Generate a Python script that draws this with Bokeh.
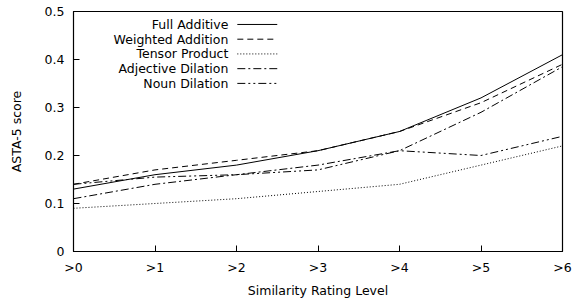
from bokeh.plotting import figure
from bokeh.models import FixedTicker, Range1d
from bokeh.core.properties import value
from bokeh.embed import file_html
from bokeh.resources import INLINE

categories = [">0", ">1", ">2", ">3", ">4", ">5", ">6"]
full_additive = [0.13, 0.16, 0.18, 0.21, 0.25, 0.32, 0.41]
weighted_addition = [0.14, 0.17, 0.19, 0.21, 0.25, 0.31, 0.39]
tensor_product = [0.09, 0.10, 0.11, 0.125, 0.14, 0.18, 0.22]
adjective_dilation = [0.11, 0.14, 0.16, 0.18, 0.21, 0.29, 0.385]
noun_dilation = [0.14, 0.155, 0.16, 0.17, 0.21, 0.20, 0.24]
y_ticks = [0, 0.1, 0.2, 0.3, 0.4, 0.5]

series = [
    ("Full Additive", full_additive, "solid"),
    ("Weighted Addition", weighted_addition, "6 4"),
    ("Tensor Product", tensor_product, "1 2"),
    ("Adjective Dilation", adjective_dilation, "8 3 2 3"),
    ("Noun Dilation", noun_dilation, "8 3 2 3 2 3"),
]

FONT = "DejaVu Sans"
FS = "12.5px"
xs = list(range(len(categories)))

p = figure(width=578, height=300, output_backend="svg", toolbar_location=None,
           x_range=Range1d(0, len(categories) - 1), y_range=Range1d(0, 0.5),
           min_border_left=73, min_border_right=16, min_border_top=11, min_border_bottom=45)
p.grid.visible = False
p.outline_line_color = "black"
p.outline_line_width = 1.2
p.background_fill_color = "white"
p.border_fill_color = "white"

for name, vals, dash in series:
    p.line(xs, vals, line_color="black", line_width=1, line_dash=dash)

# legend (gnuplot style: right-aligned text, sample to the right)
leg_y0 = 0.473
leg_step = 0.0307
for i, (name, vals, dash) in enumerate(series):
    y = leg_y0 - i * leg_step
    p.text([1.90], [y], text=[name], text_align="right", text_baseline="middle",
           text_font=value(FONT), text_font_size=FS, text_color="black")
    p.line([2.01, 2.50], [y, y], line_color="black", line_width=1, line_dash=dash)

p.xaxis.ticker = FixedTicker(ticks=xs)
p.xaxis.major_label_overrides = {i: c for i, c in enumerate(categories)}
p.yaxis.ticker = FixedTicker(ticks=y_ticks)
p.yaxis.major_label_overrides = {0: "0", 0.1: "0.1", 0.2: "0.2", 0.3: "0.3", 0.4: "0.4", 0.5: "0.5"}

for ax in (p.xaxis, p.yaxis):
    ax.major_tick_in = 6
    ax.major_tick_out = 0
    ax.minor_tick_line_color = None
    ax.axis_line_color = "black"
    ax.major_tick_line_color = "black"
    ax.major_label_text_font = FONT
    ax.major_label_text_font_size = FS
    ax.major_label_text_color = "black"
    ax.axis_label_text_font = FONT
    ax.axis_label_text_font_size = FS
    ax.axis_label_text_font_style = "normal"
    ax.axis_label_text_color = "black"

p.xaxis.axis_label = "Similarity Rating Level"
p.yaxis.axis_label = "ASTA-5 score"
p.xaxis.major_label_standoff = 8
p.yaxis.major_label_standoff = 9
p.xaxis.axis_label_standoff = 5
p.yaxis.axis_label_standoff = 18

open("out.html", "w").write(file_html(p, INLINE))
